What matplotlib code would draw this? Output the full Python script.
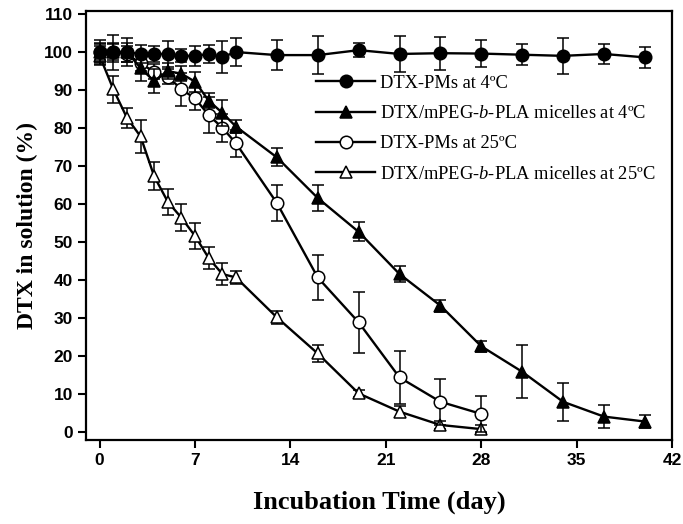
import matplotlib
matplotlib.use("Agg")
import matplotlib.pyplot as plt

plt.rcParams["mathtext.fontset"] = "custom"
plt.rcParams["mathtext.it"] = "Liberation Serif:italic"
plt.rcParams["mathtext.rm"] = "Liberation Serif"

# data
days_4 = [0, 1, 2, 3, 4, 5, 6, 7, 8, 9, 10, 13, 16, 19, 22, 25, 28, 31, 34, 37, 40]
days_25 = [0, 1, 2, 3, 4, 5, 6, 7, 8, 9, 10, 13, 16, 19, 22, 25, 28]

pms_4 = [100, 100, 100, 99.5, 99.5, 99.5, 99, 99, 99.5, 98.7, 100, 99.2, 99.2,
         100.5, 99.5, 99.7, 99.6, 99.3, 99, 99.5, 98.6]
pms_4_err = [3.2, 4.6, 3.7, 2.4, 2.0, 3.5, 1.7, 2.6, 2.3, 4.1, 3.7, 3.9, 4.9,
             1.9, 4.8, 4.3, 3.5, 2.7, 4.7, 2.7, 2.7]

mic_4 = [100, 100, 100, 95.8, 92.3, 95, 94.3, 92.2, 87.2, 84, 80.4, 72.3, 61.6,
         52.7, 41.6, 33.3, 22.6, 15.9, 8, 4.1, 2.8]
mic_4_err = [2.5, 2.5, 2.5, 3.5, 3.2, 2.0, 2.0, 2.6, 1.9, 3.5, 1.8, 2.4, 3.4,
             2.5, 2.2, 1.6, 1.5, 7.0, 5.0, 3.0, 1.7]

pms_25 = [100, 100, 99.5, 97, 94.8, 93.5, 90.2, 87.8, 83.4, 80.1, 76, 60.3, 40.7,
          28.9, 14.4, 8, 4.8]
pms_25_err = [2.0, 2.0, 2.0, 2.0, 2.0, 2.0, 4.4, 3.0, 4.8, 3.7, 3.5, 4.8, 6.0,
              8.0, 7.0, 6.0, 4.8]

mic_25 = [99, 90.2, 82.7, 77.8, 67.3, 60.6, 56.4, 51.6, 45.8, 41.6, 40.7, 30.2,
          20.7, 10.2, 5.4, 1.9, 0.8]
mic_25_err = [2.5, 3.5, 2.7, 4.4, 3.7, 3.5, 3.5, 3.5, 2.8, 2.8, 1.8, 1.8, 2.2,
              1.0, 1.5, 1.0, 1.0]

labels = ["DTX-PMs at 4ºC",
          r"DTX/mPEG-$\it{b}$-PLA micelles at 4ºC",
          "DTX-PMs at 25ºC",
          r"DTX/mPEG-$\it{b}$-PLA micelles at 25ºC"]

fig = plt.figure(figsize=(6.83, 5.24), dpi=100)
ax = fig.add_axes([0.126, 0.16, 0.858, 0.819])

common = dict(color="black", lw=1.7, elinewidth=1.1, capsize=4.3, capthick=1.1,
              markersize=9, markeredgewidth=1.1)

h1 = ax.errorbar(days_4, pms_4, yerr=pms_4_err, fmt="-o", mfc="black", mec="black",
                 zorder=5, **common)
h2 = ax.errorbar(days_4, mic_4, yerr=mic_4_err, fmt="-^", mfc="black", mec="black",
                 zorder=4, **common)
h3 = ax.errorbar(days_25, pms_25, yerr=pms_25_err, fmt="-o", mfc="white", mec="black",
                 zorder=3, **common)
h4 = ax.errorbar(days_25, mic_25, yerr=mic_25_err, fmt="-^", mfc="white", mec="black",
                 zorder=2, **common)

ax.set_xlim(-1, 42)
ax.set_ylim(-2.1, 110.8)
ax.set_xticks(range(0, 43, 7))
ax.set_yticks(range(0, 111, 10))

for s in ax.spines.values():
    s.set_linewidth(1.6)
ax.tick_params(direction="out", length=6, width=1.5, top=False, right=False)
for t in ax.get_xticklabels() + ax.get_yticklabels():
    t.set_fontfamily("Liberation Sans")
    t.set_fontweight("bold")
    t.set_fontsize(12.5)

ax.set_xlabel("Incubation Time (day)", family="Liberation Serif", weight="bold",
              fontsize=19, labelpad=16)
ax.set_ylabel("DTX in solution (%)", family="Liberation Serif", weight="bold",
              fontsize=17, labelpad=4)

leg = ax.legend([h[0] for h in (h1, h2, h3, h4)], labels,
                loc="upper right", bbox_to_anchor=(1.0, 0.89), frameon=False,
                numpoints=1, handlelength=3.2, handletextpad=0.25, labelspacing=0.72,
                prop={"family": "Liberation Serif", "size": 13.3})

fig.savefig("out.png", dpi=100)
